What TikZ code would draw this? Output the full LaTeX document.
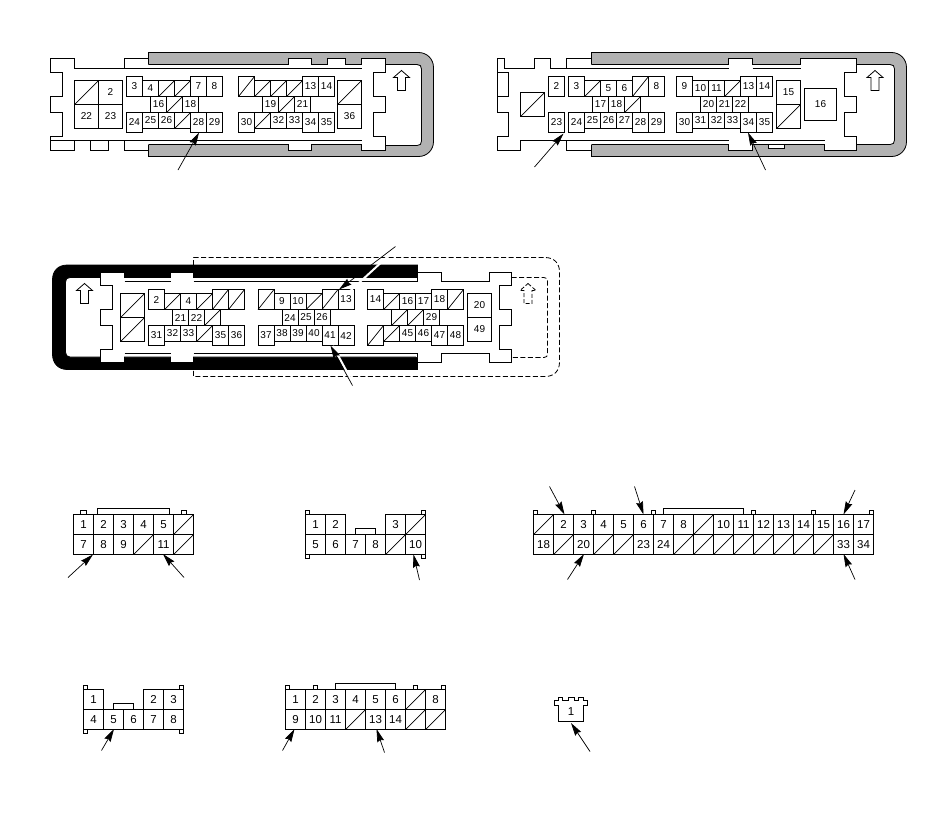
\documentclass[tikz,border=0pt]{standalone}
\usepackage{fontspec}
\setmainfont{Liberation Sans}
\usetikzlibrary{arrows.meta}
\definecolor{shellgray}{RGB}{178,178,178}
\tikzset{
  pinbox/.style={draw=black,fill=white,line width=0.8pt,inner sep=0pt,outer sep=0pt,font=\fontsize{10}{10}\selectfont},
  bigpin/.style={pinbox,font=\fontsize{11.5}{11.5}\selectfont},
  housing/.style={draw=black,line width=0.8pt,fill=white,line join=miter},
  shellg/.style={draw=black,line width=0.8pt,fill=shellgray},
  shellk/.style={draw=black,line width=0.8pt,fill=black},
  outline/.style={draw=black,line width=0.8pt},
  dashline/.style={draw=black,line width=0.8pt,dash pattern=on 5pt off 2.5pt},
  pinarrow/.style={draw=black,line width=0.7pt,-{Stealth[length=13pt,width=7pt,inset=1.5pt]}},
  halo/.style={draw=white,line width=2pt}
}
\newcommand{\pin}[6]{%
  \pgfmathsetmacro\pinw{#4-#2}\pgfmathsetmacro\pinh{#5-#3}%
  \node[pinbox,minimum width=\pinw pt,minimum height=\pinh pt] (#1) at ({(#2+#4)/2},{(#3+#5)/2}) {#6};}
\newcommand{\bpin}[6]{%
  \pgfmathsetmacro\pinw{#4-#2}\pgfmathsetmacro\pinh{#5-#3}%
  \node[bigpin,minimum width=\pinw pt,minimum height=\pinh pt] (#1) at ({(#2+#4)/2},{(#3+#5)/2}) {#6};}
\newcommand{\dpin}[5]{%
  \pin{#1}{#2}{#3}{#4}{#5}{}%
  \draw[outline,line width=0.7pt] (#1.south west) -- (#1.north east);}
\newcommand{\uparrowshape}[2]{% tip x, tip y
  \draw[outline,line width=0.8pt] (#1,#2) -- ++(8,7) -- ++(-4,0) -- ++(0,13) -- ++(-8,0) -- ++(0,-13) -- ++(-4,0) -- cycle;}
\begin{document}
\begin{tikzpicture}[x=1pt,y=-1pt]
\useasboundingbox (0,0) rectangle (950,815);
\fill[white] (0,0) rectangle (950,815);

%% ---------- connector A ----------
\draw[shellg] (148.5,64.5) -- (148.5,52.5) -- (418.5,52.5) .. controls (427,52.5) and (433.5,59) .. (433.5,67.5) -- (433.5,141.5) .. controls (433.5,150) and (427,156.5) .. (418.5,156.5) -- (148.5,156.5) -- (148.5,144.5);
\draw[housing] (148.5,64.5) -- (288.5,64.5) -- (288.5,58.5) -- (311.5,58.5) -- (311.5,64.5) -- (327.5,64.5) -- (327.5,58.5) -- (345.5,58.5) -- (345.5,64.5) -- (361.5,64.5) -- (361.5,58.5) -- (385.5,58.5) -- (385.5,64.5) -- (417,64.5) .. controls (420,64.5) and (421.5,66) .. (421.5,69) -- (421.5,141) .. controls (421.5,144) and (420,145.5) .. (417,145.5) -- (385.5,145.5) -- (385.5,150.5) -- (361.5,150.5) -- (361.5,144.5) -- (311.5,144.5) -- (311.5,150.5) -- (288.5,150.5) -- (288.5,144.5) -- (148.5,144.5);
\fill[white] (147,65) rectangle (150,144);
\draw[outline] (148.5,58.5) -- (124.5,58.5) -- (124.5,68.5) -- (74.5,68.5) -- (74.5,58.5) -- (50.5,58.5) -- (50.5,72.5) -- (62.5,72.5) -- (62.5,96.5) -- (50.5,96.5) -- (50.5,112.5) -- (62.5,112.5) -- (62.5,136.5) -- (50.5,136.5) -- (50.5,150.5) -- (74.5,150.5) -- (74.5,140.5);
\draw[outline] (124.5,68.5) -- (361.5,68.5);
\draw[outline] (50.5,140.5) -- (361.5,140.5);
\draw[outline] (90.5,140.5) -- (90.5,150.5) -- (108.5,150.5) -- (108.5,140.5);
\draw[outline] (124.5,140.5) -- (124.5,150.5) -- (148.5,150.5);
\draw[outline] (385.5,64.5) -- (385.5,72.5) -- (373.5,72.5) -- (373.5,96.5) -- (385.5,96.5) -- (385.5,112.5) -- (373.5,112.5) -- (373.5,136.5) -- (385.5,136.5) -- (385.5,145.5);
\dpin{aD1}{74.5}{80.5}{98.5}{104.5}
\pin{a2}{98.5}{80.5}{122.5}{104.5}{2}
\pin{a22}{74.5}{104.5}{98.5}{128.5}{22}
\pin{a23}{98.5}{104.5}{122.5}{128.5}{23}
\pin{a3}{126.5}{76.5}{142.5}{96.5}{3}
\pin{a4}{142.5}{80.5}{158.5}{96.5}{4}
\dpin{aD2}{158.5}{80.5}{174.5}{96.5}
\dpin{aD3}{174.5}{80.5}{190.5}{96.5}
\pin{a7}{190.5}{76.5}{206.5}{96.5}{7}
\pin{a8}{206.5}{76.5}{222.5}{96.5}{8}
\pin{a16}{150.5}{96.5}{166.5}{112.5}{16}
\dpin{aD4}{166.5}{96.5}{182.5}{112.5}
\pin{a18}{182.5}{96.5}{198.5}{112.5}{18}
\pin{a24}{126.5}{112.5}{142.5}{132.5}{24}
\pin{a25}{142.5}{112.5}{158.5}{128.5}{25}
\pin{a26}{158.5}{112.5}{174.5}{128.5}{26}
\dpin{aD5}{174.5}{112.5}{190.5}{128.5}
\pin{a28}{190.5}{112.5}{206.5}{132.5}{28}
\pin{a29}{206.5}{112.5}{222.5}{132.5}{29}
\dpin{aD6}{238.5}{76.5}{254.5}{96.5}
\dpin{aD7}{254.5}{80.5}{270.5}{96.5}
\dpin{aD8}{270.5}{80.5}{286.5}{96.5}
\dpin{aD9}{286.5}{80.5}{302.5}{96.5}
\pin{a13}{302.5}{76.5}{318.5}{96.5}{13}
\pin{a14}{318.5}{76.5}{334.5}{96.5}{14}
\pin{a19}{262.5}{96.5}{278.5}{112.5}{19}
\dpin{aD10}{278.5}{96.5}{294.5}{112.5}
\pin{a21}{294.5}{96.5}{310.5}{112.5}{21}
\pin{a30}{238.5}{112.5}{254.5}{132.5}{30}
\dpin{aD11}{254.5}{112.5}{270.5}{128.5}
\pin{a32}{270.5}{112.5}{286.5}{128.5}{32}
\pin{a33}{286.5}{112.5}{302.5}{128.5}{33}
\pin{a34}{302.5}{112.5}{318.5}{132.5}{34}
\pin{a35}{318.5}{112.5}{334.5}{132.5}{35}
\dpin{aD12}{337.5}{80.5}{361.5}{104.5}
\pin{a36}{337.5}{104.5}{361.5}{128.5}{36}
\uparrowshape{401.5}{70.5}
\coordinate (aT) at (178,170);
\draw[pinarrow] (aT) -- ([xshift=0.5pt]a28.south);

%% ---------- connector B ----------
\draw[shellg] (591.5,64.5) -- (591.5,52.5) -- (891.5,52.5) .. controls (900,52.5) and (906.5,59) .. (906.5,67.5) -- (906.5,141.5) .. controls (906.5,150) and (900,156.5) .. (891.5,156.5) -- (591.5,156.5) -- (591.5,144.5);
\draw[housing] (591.5,64.5) -- (728.5,64.5) -- (728.5,58.5) -- (752.5,58.5) -- (752.5,64.5) -- (800.5,64.5) -- (800.5,58.5) -- (856.5,58.5) -- (856.5,64.5) -- (890,64.5) .. controls (893,64.5) and (894.5,66) .. (894.5,69) -- (894.5,140) .. controls (894.5,143) and (893,144.5) .. (890,144.5) -- (856.5,144.5) -- (856.5,150.5) -- (824.5,150.5) -- (824.5,144.5) -- (752.5,144.5) -- (752.5,150.5) -- (728.5,150.5) -- (728.5,144.5) -- (591.5,144.5);
\fill[white] (590,65) rectangle (593,144);
\draw[outline] (591.5,58.5) -- (566.5,58.5) -- (566.5,68.5) -- (550.5,68.5) -- (550.5,58.5) -- (534.5,58.5) -- (534.5,68.5) -- (504.5,68.5) -- (504.5,58.5) -- (497.5,58.5) -- (497.5,112.5);
\draw[outline] (497.5,72.5) -- (508.5,72.5) -- (508.5,96.5) -- (497.5,96.5);
\draw[outline] (497.5,112.5) -- (508.5,112.5) -- (508.5,136.5) -- (497.5,136.5) -- (497.5,150.5) -- (520.5,150.5) -- (520.5,140.5) -- (566.5,140.5) -- (566.5,150.5) -- (591.5,150.5);
\draw[outline] (566.5,68.5) -- (728.5,68.5);
\draw[outline] (752.5,68.5) -- (800.5,68.5);
\draw[outline] (566.5,140.5) -- (728.5,140.5);
\draw[outline] (752.5,140.5) -- (824.5,140.5);
\draw[outline] (856.5,64.5) -- (856.5,72.5) -- (844.5,72.5) -- (844.5,96.5) -- (856.5,96.5) -- (856.5,112.5) -- (844.5,112.5) -- (844.5,136.5) -- (856.5,136.5) -- (856.5,144.5);
\draw[outline,fill=white] (768.5,144.5) -- (768.5,148.5) -- (784.5,148.5) -- (784.5,144.5);
\dpin{bD1}{520.5}{92.5}{544.5}{116.5}
\pin{b2}{548.5}{76.5}{564.5}{96.5}{2}
\pin{b23}{548.5}{112.5}{564.5}{132.5}{23}
\pin{b3}{568.5}{76.5}{584.5}{96.5}{3}
\dpin{bD2}{584.5}{80.5}{600.5}{96.5}
\pin{b5}{600.5}{80.5}{616.5}{96.5}{5}
\pin{b6}{616.5}{80.5}{632.5}{96.5}{6}
\dpin{bD3}{632.5}{76.5}{648.5}{96.5}
\pin{b8}{648.5}{76.5}{664.5}{96.5}{8}
\pin{b17}{592.5}{96.5}{608.5}{112.5}{17}
\pin{b18}{608.5}{96.5}{624.5}{112.5}{18}
\dpin{bD4}{624.5}{96.5}{640.5}{112.5}
\pin{b24}{568.5}{112.5}{584.5}{132.5}{24}
\pin{b25}{584.5}{112.5}{600.5}{128.5}{25}
\pin{b26}{600.5}{112.5}{616.5}{128.5}{26}
\pin{b27}{616.5}{112.5}{632.5}{128.5}{27}
\pin{b28}{632.5}{112.5}{648.5}{132.5}{28}
\pin{b29}{648.5}{112.5}{664.5}{132.5}{29}
\pin{b9}{676.5}{76.5}{692.5}{96.5}{9}
\pin{b10}{692.5}{80.5}{708.5}{96.5}{10}
\pin{b11}{708.5}{80.5}{724.5}{96.5}{11}
\dpin{bD5}{724.5}{80.5}{740.5}{96.5}
\pin{b13}{740.5}{76.5}{756.5}{96.5}{13}
\pin{b14}{756.5}{76.5}{772.5}{96.5}{14}
\pin{b20}{700.5}{96.5}{716.5}{112.5}{20}
\pin{b21}{716.5}{96.5}{732.5}{112.5}{21}
\pin{b22}{732.5}{96.5}{748.5}{112.5}{22}
\pin{b30}{676.5}{112.5}{692.5}{132.5}{30}
\pin{b31}{692.5}{112.5}{708.5}{128.5}{31}
\pin{b32}{708.5}{112.5}{724.5}{128.5}{32}
\pin{b33}{724.5}{112.5}{740.5}{128.5}{33}
\pin{b34}{740.5}{112.5}{756.5}{132.5}{34}
\pin{b35}{756.5}{112.5}{772.5}{132.5}{35}
\pin{b15}{776.5}{80.5}{800.5}{104.5}{15}
\dpin{bD6}{776.5}{104.5}{800.5}{128.5}
\pin{b16}{804.5}{88.5}{836.5}{120.5}{16}
\uparrowshape{875}{70.5}
\coordinate (bT1) at (534.5,167);
\coordinate (bT2) at (765.5,170);
\draw[pinarrow] (bT1) -- ([xshift=-1pt,yshift=-1pt]b23.south east);
\draw[pinarrow] (bT2) -- ([xshift=-0.5pt]b34.south);

%% ---------- connector C ----------
\draw[dashline] (193.5,265) -- (193.5,257.5) -- (545,257.5) .. controls (554,257.5) and (559.5,263) .. (559.5,272) -- (559.5,362) .. controls (559.5,371) and (554,376.5) .. (545,376.5) -- (193.5,376.5) -- (193.5,369.5);
\draw[dashline] (511.5,277.5) -- (544,277.5) .. controls (546.5,277.5) and (547.5,279) .. (547.5,281) -- (547.5,354) .. controls (547.5,356) and (546.5,357.5) .. (544,357.5) -- (511.5,357.5);
\draw[shellk] (417.5,277.5) -- (417.5,265) -- (67.5,265) .. controls (58,265) and (52.5,271) .. (52.5,280) -- (52.5,354) .. controls (52.5,363) and (58,369.5) .. (67.5,369.5) -- (417.5,369.5) -- (417.5,357);
\draw[housing] (417.5,277.5) -- (193.5,277.5) -- (193.5,272.5) -- (170.5,272.5) -- (170.5,277.5) -- (124.5,277.5) -- (124.5,272.5) -- (100.5,272.5) -- (100.5,277.5) -- (70,277.5) .. controls (67,277.5) and (65.5,279) .. (65.5,282) -- (65.5,352) .. controls (65.5,355) and (67,357) .. (70,357) -- (100.5,357) -- (100.5,362.5) -- (124.5,362.5) -- (124.5,357) -- (170.5,357) -- (170.5,362.5) -- (193.5,362.5) -- (193.5,357) -- (417.5,357);
\fill[white] (416,278) rectangle (419,356.5);
\draw[outline] (417.5,277.1) -- (417.5,281.5);
\draw[outline] (417.5,353.5) -- (417.5,357.4);
\draw[outline] (100.5,272.5) -- (100.5,285.5) -- (112.5,285.5) -- (112.5,309.5) -- (100.5,309.5) -- (100.5,325.5) -- (112.5,325.5) -- (112.5,349.5) -- (100.5,349.5) -- (100.5,362.5);
\draw[outline] (124.5,281.5) -- (170.5,281.5);
\draw[outline] (124.5,353.5) -- (170.5,353.5);
\draw[outline] (193.5,281.5) -- (417.5,281.5);
\draw[outline] (193.5,353.5) -- (417.5,353.5);
\draw[outline] (417.5,272.5) -- (441.5,272.5) -- (441.5,281.5) -- (489.5,281.5) -- (489.5,272.5) -- (511.5,272.5) -- (511.5,285.5) -- (499.5,285.5) -- (499.5,309.5) -- (511.5,309.5) -- (511.5,325.5) -- (499.5,325.5) -- (499.5,349.5) -- (511.5,349.5) -- (511.5,362.5) -- (489.5,362.5) -- (489.5,353.5) -- (441.5,353.5) -- (441.5,362.5) -- (417.5,362.5);
\dpin{cD1}{120.5}{293.5}{144.5}{317.5}
\dpin{cD2}{120.5}{317.5}{144.5}{341.5}
\pin{c2}{148.5}{289.5}{164.5}{309.5}{2}
\dpin{cD3}{164.5}{293.5}{180.5}{309.5}
\pin{c4}{180.5}{293.5}{196.5}{309.5}{4}
\dpin{cD4}{196.5}{293.5}{212.5}{309.5}
\dpin{cD5}{212.5}{289.5}{228.5}{309.5}
\dpin{cD6}{228.5}{289.5}{244.5}{309.5}
\pin{c21}{172.5}{309.5}{188.5}{325.5}{21}
\pin{c22}{188.5}{309.5}{204.5}{325.5}{22}
\dpin{cD7}{204.5}{309.5}{220.5}{325.5}
\pin{c31}{148.5}{325.5}{164.5}{345.5}{31}
\pin{c32}{164.5}{325.5}{180.5}{341.5}{32}
\pin{c33}{180.5}{325.5}{196.5}{341.5}{33}
\dpin{cD8}{196.5}{325.5}{212.5}{341.5}
\pin{c35}{212.5}{325.5}{228.5}{345.5}{35}
\pin{c36}{228.5}{325.5}{244.5}{345.5}{36}
\dpin{cD9}{258}{289.5}{274}{309.5}
\pin{c9}{274}{293.5}{290}{309.5}{9}
\pin{c10}{290}{293.5}{306}{309.5}{10}
\dpin{cD10}{306}{293.5}{322}{309.5}
\dpin{cD11}{322}{289.5}{338}{309.5}
\pin{c13}{338}{289.5}{354}{309.5}{13}
\pin{c24}{282}{309.5}{298}{325.5}{24}
\pin{c25}{298}{309.5}{314}{325.5}{25}
\pin{c26}{314}{309.5}{330}{325.5}{26}
\pin{c37}{258}{325.5}{274}{345.5}{37}
\pin{c38}{274}{325.5}{290}{341.5}{38}
\pin{c39}{290}{325.5}{306}{341.5}{39}
\pin{c40}{306}{325.5}{322}{341.5}{40}
\pin{c41}{322}{325.5}{338}{345.5}{41}
\pin{c42}{338}{325.5}{354}{345.5}{42}
\pin{c14}{367.5}{289.5}{383.5}{309.5}{14}
\dpin{cD12}{383.5}{293.5}{399.5}{309.5}
\pin{c16}{399.5}{293.5}{415.5}{309.5}{16}
\pin{c17}{415.5}{293.5}{431.5}{309.5}{17}
\pin{c18}{431.5}{289.5}{447.5}{309.5}{18}
\dpin{cD13}{447.5}{289.5}{463.5}{309.5}
\dpin{cD14}{391.5}{309.5}{407.5}{325.5}
\dpin{cD15}{407.5}{309.5}{423.5}{325.5}
\pin{c29}{423.5}{309.5}{439.5}{325.5}{29}
\dpin{cD16}{367.5}{325.5}{383.5}{345.5}
\dpin{cD17}{383.5}{325.5}{399.5}{341.5}
\pin{c45}{399.5}{325.5}{415.5}{341.5}{45}
\pin{c46}{415.5}{325.5}{431.5}{341.5}{46}
\pin{c47}{431.5}{325.5}{447.5}{345.5}{47}
\pin{c48}{447.5}{325.5}{463.5}{345.5}{48}
\pin{c20}{467.5}{293.5}{491.5}{317.5}{20}
\pin{c49}{467.5}{317.5}{491.5}{341.5}{49}
\uparrowshape{84.5}{283.5}
\draw[dashline,dash pattern=on 4pt off 2pt] (528,283.5) -- ++(8,7) -- ++(-4,0) -- ++(0,13) -- ++(-8,0) -- ++(0,-13) -- ++(-4,0) -- cycle;
\coordinate (cT1) at (395.5,246.5);
\coordinate (cT2) at (352.5,385.5);
\coordinate (cH1a) at (397,248);
\coordinate (cH1b) at (349,292);
\coordinate (cH2a) at (354,385);
\coordinate (cH2b) at (333,346);
\draw[halo] (cH1a) -- (cH1b);
\draw[halo] (cH2a) -- (cH2b);
\draw[pinarrow] (cT1) -- ([xshift=-7pt]c13.north);
\draw[pinarrow] (cT2) -- ([xshift=0.5pt]c41.south);

%% ---------- connector D ----------
\draw[outline] (80.5,514.5) -- (80.5,510.5) -- (86,510.5) -- (86,514.5);
\draw[outline] (181,514.5) -- (181,510.5) -- (186,510.5) -- (186,514.5);
\draw[outline] (97.5,514.5) -- (97.5,508.5) -- (169.5,508.5) -- (169.5,514.5);
\bpin{d1}{73.5}{514.5}{93.5}{534.5}{1}
\bpin{d2}{93.5}{514.5}{113.5}{534.5}{2}
\bpin{d3}{113.5}{514.5}{133.5}{534.5}{3}
\bpin{d4}{133.5}{514.5}{153.5}{534.5}{4}
\bpin{d5}{153.5}{514.5}{173.5}{534.5}{5}
\dpin{dD1}{173.5}{514.5}{193.5}{534.5}
\bpin{d7}{73.5}{534.5}{93.5}{554.5}{7}
\bpin{d8}{93.5}{534.5}{113.5}{554.5}{8}
\bpin{d9}{113.5}{534.5}{133.5}{554.5}{9}
\dpin{dD2}{133.5}{534.5}{153.5}{554.5}
\bpin{d11}{153.5}{534.5}{173.5}{554.5}{11}
\dpin{dD3}{173.5}{534.5}{193.5}{554.5}
\coordinate (dT1) at (68,577.5);
\coordinate (dT2) at (184,577.5);
\draw[pinarrow] (dT1) -- ([xshift=-0.5pt]d7.south east);
\draw[pinarrow] (dT2) -- ([xshift=-0.5pt,yshift=0.5pt]d11.south);

%% ---------- connector E ----------
\draw[outline] (305.5,514.5) -- (305.5,510.5) -- (309.5,510.5) -- (309.5,514.5);
\draw[outline] (421.5,514.5) -- (421.5,510.5) -- (425.5,510.5) -- (425.5,514.5);
\draw[outline] (305.5,554.5) -- (305.5,558.5) -- (309.5,558.5) -- (309.5,554.5);
\draw[outline] (421.5,554.5) -- (421.5,558.5) -- (425.5,558.5) -- (425.5,554.5);
\draw[outline] (355.5,534.5) -- (355.5,528.5) -- (375.5,528.5) -- (375.5,534.5);
\bpin{e1}{305.5}{514.5}{325.5}{534.5}{1}
\bpin{e2}{325.5}{514.5}{345.5}{534.5}{2}
\bpin{e3}{385.5}{514.5}{405.5}{534.5}{3}
\dpin{eD1}{405.5}{514.5}{425.5}{534.5}
\bpin{e5}{305.5}{534.5}{325.5}{554.5}{5}
\bpin{e6}{325.5}{534.5}{345.5}{554.5}{6}
\bpin{e7}{345.5}{534.5}{365.5}{554.5}{7}
\bpin{e8}{365.5}{534.5}{385.5}{554.5}{8}
\dpin{eD2}{385.5}{534.5}{405.5}{554.5}
\bpin{e10}{405.5}{534.5}{425.5}{554.5}{10}
\coordinate (eT) at (419.5,580);
\draw[pinarrow] (eT) -- ([xshift=-2pt]e10.south);

%% ---------- connector F ----------
\draw[outline] (533.5,514.5) -- (533.5,510.5) -- (537.5,510.5) -- (537.5,514.5);
\draw[outline] (869.5,514.5) -- (869.5,510.5) -- (873.5,510.5) -- (873.5,514.5);
\draw[outline] (591.5,514.5) -- (591.5,510.5) -- (595.5,510.5) -- (595.5,514.5);
\draw[outline] (651.5,514.5) -- (651.5,510.5) -- (655.5,510.5) -- (655.5,514.5);
\draw[outline] (751.5,514.5) -- (751.5,510.5) -- (755.5,510.5) -- (755.5,514.5);
\draw[outline] (811.5,514.5) -- (811.5,510.5) -- (815.5,510.5) -- (815.5,514.5);
\draw[outline] (663.5,514.5) -- (663.5,508.5) -- (743.5,508.5) -- (743.5,514.5);
\dpin{fD1}{533.5}{514.5}{553.5}{534.5}
\bpin{f2}{553.5}{514.5}{573.5}{534.5}{2}
\bpin{f3}{573.5}{514.5}{593.5}{534.5}{3}
\bpin{f4}{593.5}{514.5}{613.5}{534.5}{4}
\bpin{f5}{613.5}{514.5}{633.5}{534.5}{5}
\bpin{f6}{633.5}{514.5}{653.5}{534.5}{6}
\bpin{f7}{653.5}{514.5}{673.5}{534.5}{7}
\bpin{f8}{673.5}{514.5}{693.5}{534.5}{8}
\dpin{fD2}{693.5}{514.5}{713.5}{534.5}
\bpin{f10}{713.5}{514.5}{733.5}{534.5}{10}
\bpin{f11}{733.5}{514.5}{753.5}{534.5}{11}
\bpin{f12}{753.5}{514.5}{773.5}{534.5}{12}
\bpin{f13}{773.5}{514.5}{793.5}{534.5}{13}
\bpin{f14}{793.5}{514.5}{813.5}{534.5}{14}
\bpin{f15}{813.5}{514.5}{833.5}{534.5}{15}
\bpin{f16}{833.5}{514.5}{853.5}{534.5}{16}
\bpin{f17}{853.5}{514.5}{873.5}{534.5}{17}
\bpin{f18}{533.5}{534.5}{553.5}{554.5}{18}
\dpin{fD3}{553.5}{534.5}{573.5}{554.5}
\bpin{f20}{573.5}{534.5}{593.5}{554.5}{20}
\dpin{fD4}{593.5}{534.5}{613.5}{554.5}
\dpin{fD5}{613.5}{534.5}{633.5}{554.5}
\bpin{f23}{633.5}{534.5}{653.5}{554.5}{23}
\bpin{f24}{653.5}{534.5}{673.5}{554.5}{24}
\dpin{fD6}{673.5}{534.5}{693.5}{554.5}
\dpin{fD7}{693.5}{534.5}{713.5}{554.5}
\dpin{fD8}{713.5}{534.5}{733.5}{554.5}
\dpin{fD9}{733.5}{534.5}{753.5}{554.5}
\dpin{fD10}{753.5}{534.5}{773.5}{554.5}
\dpin{fD11}{773.5}{534.5}{793.5}{554.5}
\dpin{fD12}{793.5}{534.5}{813.5}{554.5}
\dpin{fD13}{813.5}{534.5}{833.5}{554.5}
\bpin{f33}{833.5}{534.5}{853.5}{554.5}{33}
\bpin{f34}{853.5}{534.5}{873.5}{554.5}{34}
\coordinate (fT1) at (549.5,486.5);
\coordinate (fT2) at (634.5,486.5);
\coordinate (fT3) at (855,490);
\coordinate (fT4) at (567.5,579.5);
\coordinate (fT5) at (855,579.5);
\draw[pinarrow] (fT1) -- ([xshift=1pt]f2.north);
\draw[pinarrow] (fT2) -- (f6.north);
\draw[pinarrow] (fT3) -- (f16.north);
\draw[pinarrow] (fT4) -- ([xshift=0.5pt,yshift=0.5pt]f20.south);
\draw[pinarrow] (fT5) -- ([yshift=0.5pt]f33.south);

%% ---------- connector G ----------
\draw[outline] (83.5,689.5) -- (83.5,685.5) -- (87.5,685.5) -- (87.5,689.5);
\draw[outline] (179.5,689.5) -- (179.5,685.5) -- (183.5,685.5) -- (183.5,689.5);
\draw[outline] (83.5,729.5) -- (83.5,733.5) -- (87.5,733.5) -- (87.5,729.5);
\draw[outline] (179.5,729.5) -- (179.5,733.5) -- (183.5,733.5) -- (183.5,729.5);
\draw[outline] (113.5,709.5) -- (113.5,703.5) -- (133.5,703.5) -- (133.5,709.5);
\bpin{g1}{83.5}{689.5}{103.5}{709.5}{1}
\bpin{g2}{143.5}{689.5}{163.5}{709.5}{2}
\bpin{g3}{163.5}{689.5}{183.5}{709.5}{3}
\bpin{g4}{83.5}{709.5}{103.5}{729.5}{4}
\bpin{g5}{103.5}{709.5}{123.5}{729.5}{5}
\bpin{g6}{123.5}{709.5}{143.5}{729.5}{6}
\bpin{g7}{143.5}{709.5}{163.5}{729.5}{7}
\bpin{g8}{163.5}{709.5}{183.5}{729.5}{8}
\coordinate (gT) at (101.5,750.5);
\draw[pinarrow] (gT) -- ([xshift=0.5pt,yshift=0.5pt]g5.south);

%% ---------- connector H ----------
\draw[outline] (285.5,689.5) -- (285.5,685.5) -- (289.5,685.5) -- (289.5,689.5);
\draw[outline] (441.5,689.5) -- (441.5,685.5) -- (445.5,685.5) -- (445.5,689.5);
\draw[outline] (313.5,689.5) -- (313.5,685.5) -- (317.5,685.5) -- (317.5,689.5);
\draw[outline] (413.5,689.5) -- (413.5,685.5) -- (417.5,685.5) -- (417.5,689.5);
\draw[outline] (335.5,689.5) -- (335.5,683.5) -- (395.5,683.5) -- (395.5,689.5);
\bpin{h1}{285.5}{689.5}{305.5}{709.5}{1}
\bpin{h2}{305.5}{689.5}{325.5}{709.5}{2}
\bpin{h3}{325.5}{689.5}{345.5}{709.5}{3}
\bpin{h4}{345.5}{689.5}{365.5}{709.5}{4}
\bpin{h5}{365.5}{689.5}{385.5}{709.5}{5}
\bpin{h6}{385.5}{689.5}{405.5}{709.5}{6}
\dpin{hD1}{405.5}{689.5}{425.5}{709.5}
\bpin{h8}{425.5}{689.5}{445.5}{709.5}{8}
\bpin{h9}{285.5}{709.5}{305.5}{729.5}{9}
\bpin{h10}{305.5}{709.5}{325.5}{729.5}{10}
\bpin{h11}{325.5}{709.5}{345.5}{729.5}{11}
\dpin{hD2}{345.5}{709.5}{365.5}{729.5}
\bpin{h13}{365.5}{709.5}{385.5}{729.5}{13}
\bpin{h14}{385.5}{709.5}{405.5}{729.5}{14}
\dpin{hD3}{405.5}{709.5}{425.5}{729.5}
\dpin{hD4}{425.5}{709.5}{445.5}{729.5}
\coordinate (hT1) at (282.5,750.5);
\coordinate (hT2) at (384.5,752.5);
\draw[pinarrow] (hT1) -- ([xshift=-1pt,yshift=0.5pt]h9.south);
\draw[pinarrow] (hT2) -- ([xshift=1pt,yshift=0.5pt]h13.south);

%% ---------- connector I ----------
\draw[outline,fill=white] (558.5,705) -- (554.5,705) -- (554.5,700.5) -- (558.5,700.5) -- (558.5,697.5) -- (562.5,697.5) -- (562.5,700.5) -- (568.5,700.5) -- (568.5,697.5) -- (574.5,697.5) -- (574.5,700.5) -- (578.5,700.5) -- (578.5,697.5) -- (583.5,697.5) -- (583.5,700.5) -- (587,700.5) -- (587,705) -- (583.5,705);
\node[bigpin,draw=none,fill=none,minimum width=25pt,minimum height=20pt] (i1) at (571,712) {1};
\draw[outline] (558.5,705) -- (558.5,721.5) -- (583.5,721.5) -- (583.5,705);
\coordinate (iT) at (590,751.5);
\draw[pinarrow] (iT) -- ([yshift=-1pt]i1.south);
\end{tikzpicture}
\end{document}
